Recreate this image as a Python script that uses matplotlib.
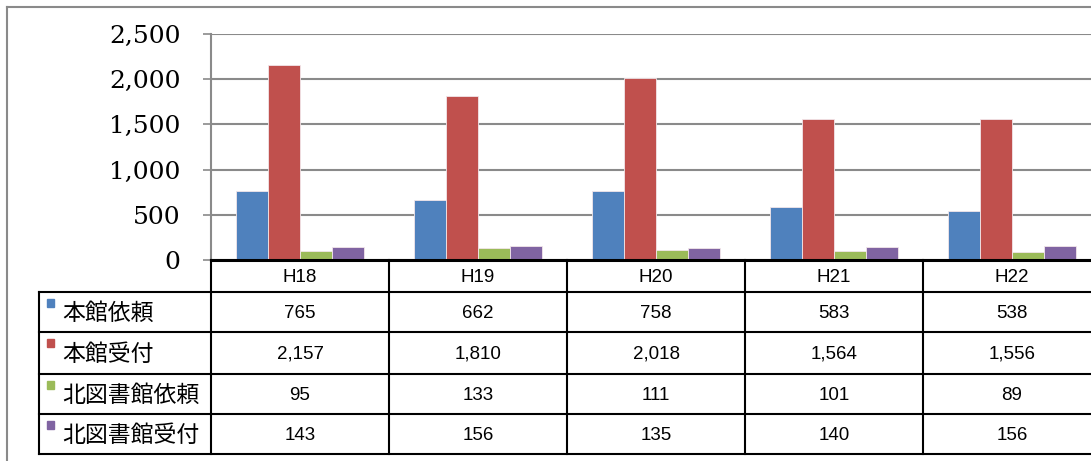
import numpy as np
import matplotlib
matplotlib.use("Agg")
import matplotlib.pyplot as plt
from matplotlib.patches import Rectangle

plt.rcParams['font.family'] = ['Noto Sans CJK JP', 'DejaVu Sans']

# データ
years = ['H18', 'H19', 'H20', 'H21', 'H22']
series_names = ['本館依頼', '本館受付', '北図書館依頼', '北図書館受付']
honkan_irai = [765, 662, 758, 583, 538]
honkan_uketsuke = [2157, 1810, 2018, 1564, 1556]
kita_irai = [95, 133, 111, 101, 89]
kita_uketsuke = [143, 156, 135, 140, 156]
yticks = [0, 500, 1000, 1500, 2000, 2500]

series = [honkan_irai, honkan_uketsuke, kita_irai, kita_uketsuke]
colors = ['#4F81BD', '#C0504D', '#9BBB59', '#8064A2']

W, H = 1091, 461
fig = plt.figure(figsize=(W / 100, H / 100), dpi=100)

# 配置 (ピクセル)
x0, col_w = 211, 178
y_top, y_base = 34, 260
row_y = [260, 292, 332, 374, 414, 454]
lab_x = 39
x_right = x0 + col_w * len(years)

# 外枠
bg = fig.add_axes([0, 0, 1, 1])
bg.set_xlim(0, W)
bg.set_ylim(H, 0)
bg.axis('off')
bg.plot([7, 7], [7, H], color='#8a8a8a', lw=1.5)
bg.plot([7, W], [7, 7], color='#8a8a8a', lw=1.5)

# 棒グラフ
ax = fig.add_axes([x0 / W, (H - y_base) / H, (x_right - x0) / W, (y_base - y_top) / H])
x = np.arange(len(years))
bw = 0.18
for i, (vals, c) in enumerate(zip(series, colors)):
    ax.bar(x + (i - 1.5) * bw, vals, bw, color=c, edgecolor='#f2e6ea', linewidth=0.6, zorder=3)

ax.set_xlim(-0.5, len(years) - 0.5)
ax.set_ylim(0, 2500)
ax.set_yticks(yticks)
ax.set_yticklabels([f'{v:,}' for v in yticks], family='DejaVu Serif', fontsize=18)
ax.tick_params(axis='y', length=6, width=1.2, color='#8a8a8a', pad=16)
ax.set_xticks([])
ax.yaxis.grid(True, color='#8a8a8a', lw=1.5, zorder=0)
for s in ['top', 'right', 'bottom']:
    ax.spines[s].set_visible(False)
ax.spines['left'].set_color('#8a8a8a')
ax.spines['left'].set_linewidth(1.5)

# データテーブル
tbl = fig.add_axes([0, 0, 1, 1], zorder=5)
tbl.set_xlim(0, W)
tbl.set_ylim(H, 0)
tbl.axis('off')
tbl.patch.set_visible(False)

tbl.plot([x0, W], [row_y[0], row_y[0]], color='black', lw=2.2)
for y in row_y[1:]:
    tbl.plot([lab_x, W], [y, y], color='black', lw=1.5)
tbl.plot([lab_x, lab_x], [row_y[1], row_y[-1]], color='black', lw=1.5)
for j in range(len(years) + 1):
    xc = x0 + j * col_w
    tbl.plot([xc, xc], [row_y[0], row_y[-1]], color='black', lw=1.5)

num_font = 'Liberation Sans'
for j, yr in enumerate(years):
    tbl.text(x0 + (j + 0.5) * col_w, (row_y[0] + row_y[1]) / 2 + 1, yr,
             ha='center', va='center', fontsize=13.5, family=num_font)

for i, (name, vals, c) in enumerate(zip(series_names, series, colors)):
    yc = (row_y[i + 1] + row_y[i + 2]) / 2
    tbl.add_patch(Rectangle((47, row_y[i + 1] + 7), 7, 8, color=c))
    tbl.text(62, yc + 1, name, ha='left', va='center', fontsize=16.5)
    for j, v in enumerate(vals):
        tbl.text(x0 + (j + 0.5) * col_w, yc + 1, f'{v:,}',
                 ha='center', va='center', fontsize=13.5, family=num_font)

fig.savefig('out.png', dpi=100)
